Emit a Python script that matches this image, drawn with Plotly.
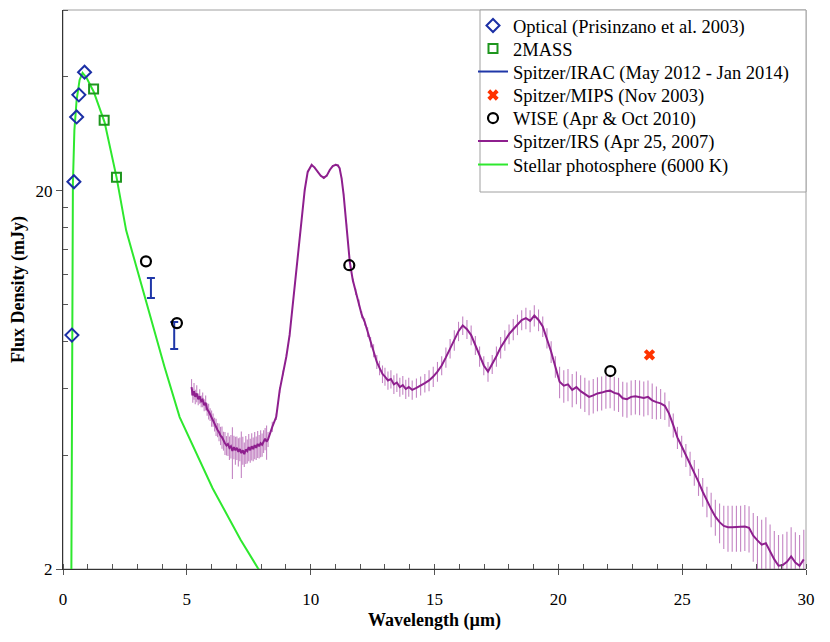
import plotly.graph_objects as go

# ---------------- data ----------------
opt_wl = [0.36, 0.44, 0.55, 0.64, 0.87]
opt_flux = [8.3, 21.1, 31.3, 35.8, 41.1]

tmass_wl = [1.235, 1.662, 2.159]
tmass_flux = [37.1, 30.7, 21.7]

irac_wl = [3.55, 4.49]
irac_lo = [10.4, 7.63]
irac_hi = [11.75, 8.99]

mips_wl = [23.68]
mips_flux = [7.36]

wise_wl = [3.35, 4.6, 11.56, 22.1]
wise_flux = [13.0, 8.93, 12.7, 6.67]

phot_wl = [0.32, 0.36, 0.375, 0.40, 0.46, 0.55, 0.67, 0.79, 0.95, 1.24, 1.68,
           2.16, 2.55, 3.29, 4.10, 4.71, 6.04, 7.17, 7.89, 8.5]
phot_flux = [1.0, 4.1, 10.3, 20.9, 28.9, 34.7, 39.2, 40.9, 39.7, 36.5, 30.3,
             21.7, 15.7, 10.5, 6.84, 5.04, 3.27, 2.39, 2.0, 1.8]

irs_wl = [
    5.19, 5.24, 5.29, 5.34, 5.40, 5.46, 5.52, 5.58, 5.64, 5.70, 5.76, 5.82, 5.88,
    5.94, 6.00, 6.06, 6.12, 6.18, 6.24, 6.30, 6.36, 6.42, 6.48, 6.54, 6.60, 6.66,
    6.72, 6.78, 6.84, 6.90, 6.96, 7.02, 7.08, 7.14, 7.20, 7.26, 7.32, 7.38, 7.44,
    7.50, 7.56, 7.62, 7.68, 7.74, 7.80, 7.86, 7.92, 7.98, 8.04, 8.10, 8.16, 8.22,
    8.28, 8.45, 8.61, 8.75, 8.88, 9.02, 9.15, 9.35, 9.56, 9.76, 9.88, 10.04, 10.16,
    10.28, 10.40, 10.53, 10.65, 10.77, 10.89, 11.01, 11.10, 11.17, 11.25, 11.33,
    11.45, 11.58, 11.70, 11.82, 11.95, 12.06, 12.18, 12.30, 12.42, 12.54, 12.67,
    12.78, 12.90, 13.00, 13.12, 13.24, 13.36, 13.48, 13.60, 13.72, 13.84, 13.96,
    14.10, 14.27, 14.44, 14.61, 14.78, 14.95, 15.12, 15.29, 15.46, 15.63, 15.80,
    15.97, 16.14, 16.31, 16.48, 16.65, 16.82, 16.99, 17.16, 17.33, 17.50, 17.67,
    17.84, 18.01, 18.18, 18.35, 18.52, 18.69, 18.86, 19.03, 19.20, 19.37, 19.54,
    19.71, 19.88, 20.05, 20.22, 20.39, 20.56, 20.73, 20.90, 21.07, 21.24, 21.41,
    21.58, 21.75, 21.92, 22.09, 22.26, 22.43, 22.60, 22.77, 22.94, 23.11, 23.28,
    23.45, 23.62, 23.79, 23.96, 24.13, 24.30, 24.47, 24.64, 24.81, 24.98, 25.15,
    25.32, 25.49, 25.66, 25.83, 26.00, 26.17, 26.34, 26.51, 26.68, 26.85, 27.02,
    27.19, 27.36, 27.53, 27.70, 27.87, 28.04, 28.21, 28.38, 28.55, 28.72, 28.89,
    29.06, 29.23, 29.40, 29.57, 29.74, 29.91]
irs_flux = [
    6.05, 5.75, 5.90, 5.70, 5.82, 5.62, 5.72, 5.55, 5.60, 5.42, 5.50, 5.28, 5.22,
    5.12, 5.00, 4.95, 4.82, 4.74, 4.66, 4.60, 4.50, 4.46, 4.36, 4.30, 4.24, 4.28,
    4.18, 4.22, 4.10, 4.20, 4.12, 4.18, 4.08, 4.15, 4.05, 4.12, 4.02, 4.14, 4.10,
    4.20, 4.12, 4.22, 4.15, 4.25, 4.18, 4.28, 4.22, 4.30, 4.26, 4.35, 4.42, 4.34,
    4.40, 4.75, 5.05, 5.94, 6.59, 7.30, 8.31, 11.26, 15.26, 20.07, 22.40, 23.38, 23.0,
    22.40, 21.90, 21.60, 21.90, 22.67, 23.20, 23.38, 23.30, 22.90, 21.50, 19.50,
    16.20, 12.95, 11.60, 10.80, 10.10, 9.40, 9.00, 8.45, 7.95, 7.55, 7.05,
    6.80, 6.55, 6.45, 6.30, 6.35, 6.15, 6.22, 6.05, 6.12, 5.98, 6.05,
    5.95, 6.02, 6.10, 6.20, 6.30, 6.45, 6.65, 6.90, 7.25, 7.65, 8.05,
    8.50, 8.80, 8.60, 8.30, 7.80, 7.30, 6.90, 6.65, 6.95, 7.30, 7.70,
    8.05, 8.35, 8.60, 8.85, 9.10, 9.20, 9.05, 9.35, 9.10, 8.75, 8.15,
    7.50, 6.85, 6.25, 6.10, 6.15, 5.95, 6.05, 5.90, 5.80, 5.70, 5.75,
    5.82, 5.85, 5.90, 5.92, 5.84, 5.80, 5.65, 5.62, 5.70, 5.72, 5.70,
    5.66, 5.70, 5.58, 5.52, 5.48, 5.40, 5.15, 4.80, 4.45, 4.22, 4.00,
    3.80, 3.60, 3.40, 3.20, 3.02, 2.88, 2.75, 2.66, 2.60, 2.58, 2.58,
    2.58, 2.58, 2.59, 2.57, 2.45, 2.38, 2.32, 2.34, 2.22, 2.12, 2.04,
    2.05, 2.09, 2.16, 2.08, 2.04, 2.12]
irs_err = [
    0.3, 0.25, 0.3, 0.25, 0.3, 0.2, 0.25, 0.2, 0.25, 0.2, 0.25, 0.2, 0.25,
    0.2, 0.25, 0.2, 0.2, 0.25, 0.2, 0.25, 0.25, 0.3, 0.25, 0.3, 0.25, 0.3,
    0.3, 0.3, 0.64, 0.3, 0.35, 0.3, 0.35, 0.3, 0.57, 0.35, 0.3, 0.35, 0.3,
    0.35, 0.3, 0.35, 0.3, 0.35, 0.3, 0.35, 0.3, 0.35, 0.3, 0.3, 0.3, 0.45,
    0.2, 0.15, 0.1, 0.1, 0.1, 0.1, 0.1, 0.1, 0.12, 0.15, 0.15, 0.15, 0.15,
    0.15, 0.15, 0.15, 0.15, 0.15, 0.15, 0.15, 0.15, 0.15, 0.15, 0.15,
    0.15, 0.15, 0.15, 0.2, 0.2, 0.2, 0.2, 0.25, 0.25, 0.3, 0.3,
    0.3, 0.35, 0.35, 0.35, 0.35, 0.35, 0.35, 0.35, 0.35, 0.35, 0.35,
    0.35, 0.35, 0.35, 0.35, 0.4, 0.4, 0.4, 0.4, 0.45, 0.45, 0.5,
    0.5, 0.5, 0.5, 0.5, 0.45, 0.45, 0.4, 0.4, 0.4, 0.45, 0.5,
    0.5, 0.5, 0.55, 0.55, 0.55, 0.6, 0.6, 0.6, 0.6, 0.55, 0.5,
    0.5, 0.45, 0.6, 0.6, 0.6, 0.6, 0.6, 0.6, 0.6, 0.6, 0.6,
    0.6, 0.6, 0.6, 0.6, 0.6, 0.6, 0.6, 0.6, 0.6, 0.6, 0.6,
    0.6, 0.6, 0.6, 0.55, 0.5, 0.45, 0.4, 0.35, 0.3, 0.28, 0.28,
    0.28, 0.28, 0.28, 0.28, 0.28, 0.3, 0.3, 0.32, 0.34, 0.36, 0.36,
    0.36, 0.36, 0.36, 0.36, 0.36, 0.38, 0.38, 0.4, 0.4, 0.4, 0.42,
    0.42, 0.42, 0.42, 0.42, 0.42, 0.42]

x_major = [0, 5, 10, 15, 20, 25, 30]
x_minor = list(range(0, 31))
y_major = [2, 20]
y_minor = [4, 6, 8, 10, 12, 14, 16, 18, 40, 60]

FONT = "Liberation Serif, Times New Roman, serif"
OFF = 8  # page body margin in the browser
W, H = 830, 642
ML, MR, MT, MB = 55, 32, 2, 81
PW = W - ML - MR
PH = H - MT - MB

# legend rows (pixel centre of each legend row, on screen)
leg_rows = [26, 49, 72, 95.5, 118.5, 141.5, 165]
LEG_LEFT = 465


def leg_pos(i):
    return dict(x=(LEG_LEFT - ML) / PW, y=1 - (leg_rows[i] - OFF - MT) / PH,
                xanchor="left", yanchor="middle", bgcolor="rgba(0,0,0,0)",
                borderwidth=0, font=dict(family=FONT, size=18.5, color="#000000"),
                itemwidth=30)


fig = go.Figure()

fig.add_trace(go.Scatter(x=phot_wl, y=phot_flux, mode="lines",
                         line=dict(color="#2ee82e", width=2),
                         name="Stellar photosphere (6000 K)", legend="legend7"))

fig.add_trace(go.Scatter(x=irs_wl, y=irs_flux, mode="lines",
                         line=dict(color="#8e1f8e", width=2),
                         error_y=dict(type="data", array=irs_err, color="rgba(170,80,170,0.7)",
                                      thickness=1.1, width=0),
                         name="Spitzer/IRS (Apr 25, 2007)", legend="legend6"))

irac_x, irac_y, irac_up, irac_dn = [], [], [], []
for w, lo, hi in zip(irac_wl, irac_lo, irac_hi):
    mid = (lo + hi) / 2
    irac_x += [w, None]
    irac_y += [mid, None]
    irac_up += [hi - mid, 0]
    irac_dn += [mid - lo, 0]
fig.add_trace(go.Scatter(x=irac_x, y=irac_y, mode="lines", connectgaps=False,
                         line=dict(color="#1f37a8", width=2),
                         error_y=dict(type="data", symmetric=False, array=irac_up,
                                      arrayminus=irac_dn, color="#1f37a8",
                                      thickness=2, width=4),
                         name="Spitzer/IRAC (May 2012 - Jan 2014)", legend="legend3"))

fig.add_trace(go.Scatter(x=opt_wl, y=opt_flux, mode="markers",
                         marker=dict(symbol="diamond-open", size=10, color="#1b2fa5",
                                     line=dict(width=2, color="#1b2fa5")),
                         name="Optical (Prisinzano et al. 2003)", legend="legend"))
fig.add_trace(go.Scatter(x=tmass_wl, y=tmass_flux, mode="markers",
                         marker=dict(symbol="square-open", size=9, color="#1e961e",
                                     line=dict(width=2, color="#1e961e")),
                         name="2MASS", legend="legend2"))
fig.add_trace(go.Scatter(x=mips_wl, y=mips_flux, mode="markers",
                         marker=dict(symbol="x", size=10, color="#ff3300",
                                     line=dict(width=0)),
                         name="Spitzer/MIPS (Nov 2003)", legend="legend4"))
fig.add_trace(go.Scatter(x=wise_wl, y=wise_flux, mode="markers",
                         marker=dict(symbol="circle-open", size=10, color="#000000",
                                     line=dict(width=2.2, color="#000000")),
                         name="WISE (Apr & Oct 2010)", legend="legend5"))

layout_legends = {("legend" if i == 0 else f"legend{i+1}"): leg_pos(i) for i in range(7)}

fig.update_layout(
    width=W, height=H,
    margin=dict(l=ML, r=MR, t=MT, b=MB, autoexpand=False),
    paper_bgcolor="white", plot_bgcolor="white",
    font=dict(family=FONT, size=17, color="#000000"),
    showlegend=True,
    xaxis=dict(range=[0, 30], showgrid=False, zeroline=False, automargin=False,
               showline=True, linecolor="#333333", linewidth=1,
               tickmode="array", tickvals=x_major, ticks="outside", ticklen=5,
               tickcolor="#555555", ticklabelstandoff=10,
               minor=dict(tickmode="array", tickvals=x_minor, ticks="inside",
                          ticklen=5, tickcolor="#555555"),
               tickfont=dict(family=FONT, size=17, color="#000000"),
               title=dict(text="<b>Wavelength (µm)</b>",
                          font=dict(family=FONT, size=18, color="#000000"),
                          standoff=4)),
    yaxis=dict(type="log", range=[0.30103, 1.778151], showgrid=False, zeroline=False,
               automargin=False,
               showline=True, linecolor="#333333", linewidth=1,
               tickmode="array", tickvals=y_major, ticktext=["2", "20"],
               ticks="outside", ticklen=6, tickcolor="#555555",
               minor=dict(tickmode="array", tickvals=y_minor, ticks="inside",
                          ticklen=5, tickcolor="#555555"),
               tickfont=dict(family=FONT, size=17, color="#000000"),
               title=dict(text="<b>Flux Density (mJy)</b>",
                          font=dict(family=FONT, size=18, color="#000000"),
                          standoff=7)),
    shapes=[dict(type="rect", xref="paper", yref="paper", x0=0, y0=0, x1=1, y1=1,
                 line=dict(color="#a0a0a0", width=1), layer="below"),
            dict(type="rect", xref="paper", yref="paper",
                 x0=(480 - OFF - ML) / PW, x1=1, y0=1 - (192 - OFF - MT) / PH, y1=1,
                 line=dict(color="#a0a0a0", width=1), fillcolor="white", layer="below")],
    **layout_legends,
)

fig.write_html("out.html")
